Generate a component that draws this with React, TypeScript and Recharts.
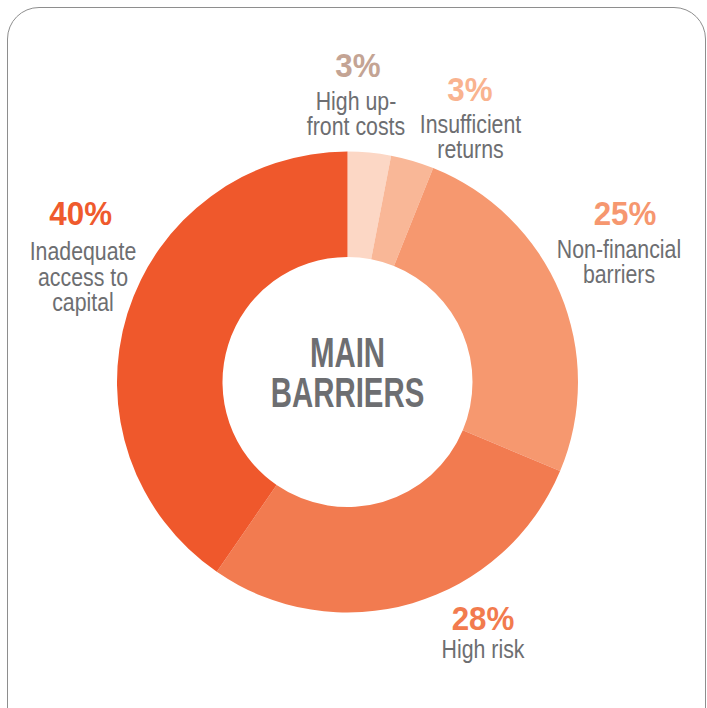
import { PieChart, Pie, Cell } from 'recharts'

// shares of the main barriers, clockwise from 12 o'clock
const categories = [
  'High up-front costs',
  'Insufficient returns',
  'Non-financial barriers',
  'High risk',
  'Inadequate access to capital',
]
const categoryLines = [
  ['High up-', 'front costs'],
  ['Insufficient', 'returns'],
  ['Non-financial', 'barriers'],
  ['High risk'],
  ['Inadequate', 'access to', 'capital'],
]
const shares = [3, 3, 25, 28, 40]
const centerTitle = ['MAIN', 'BARRIERS']

const sliceColors = ['#FCD7C5', '#F9B797', '#F6986F', '#F27B50', '#EF582C']
const percentColors = ['#C4A494', '#F9B38F', '#F6976F', '#F27B4E', '#EF5A2D']
const textGray = '#6D6E71'

// label anchor offsets from the pie centre
const labelLayout = [
  { pctX: 10.5, pctY: -305, lineX: 8.5, lineY: -272, gap: 25 },
  { pctX: 122.5, pctY: -281, lineX: 123, lineY: -249, gap: 24.5 },
  { pctX: 277.5, pctY: -157, lineX: 271.5, lineY: -124, gap: 25 },
  { pctX: 135.5, pctY: 248, lineX: 135.5, lineY: 276, gap: 25 },
  { pctX: -266.8, pctY: -157, lineX: -264.5, lineY: -122, gap: 25.5 },
]

const chartData = categories.map((name, i) => ({
  name,
  value: shares[i],
  lines: categoryLines[i],
}))

const FONT = '"Liberation Sans", Arial, sans-serif'

const renderCenter = (cx: number, cy: number) =>
  centerTitle.map((t, i) => (
    <text
      key={t}
      transform={`translate(${cx},${cy - 15 + i * 40}) scale(0.7,1)`}
      textAnchor="middle"
      fontFamily={FONT}
      fontWeight={700}
      fontSize={42}
      fill={textGray}
    >
      {t}
    </text>
  ))

const renderLabel = (props: any) => {
  const { cx, cy, index, value } = props
  const l = labelLayout[index]
  const lines: string[] = chartData[index].lines
  return (
    <g key={`lbl-${index}`}>
      {index === 0 && renderCenter(cx, cy)}
      <text
        transform={`translate(${cx + l.pctX},${cy + l.pctY}) scale(0.95,1)`}
        textAnchor="middle"
        fontFamily={FONT}
        fontWeight={700}
        fontSize={33}
        fill={percentColors[index]}
      >
        {`${value}%`}
      </text>
      {lines.map((line, j) => (
        <text
          key={j}
          transform={`translate(${cx + l.lineX},${cy + l.lineY + j * l.gap}) scale(0.82,1)`}
          textAnchor="middle"
          fontFamily={FONT}
          fontSize={26}
          fill={textGray}
        >
          {line}
        </text>
      ))}
    </g>
  )
}

export default function App() {
  return (
    <div
      style={{
        position: 'fixed',
        left: 0,
        top: 0,
        width: 707,
        height: 708,
        overflow: 'hidden',
        background: '#fff',
      }}
    >
      <div
        style={{
          position: 'absolute',
          left: 7,
          top: 7,
          width: 699,
          height: 760,
          boxSizing: 'border-box',
          border: '1.5px solid #8E8E8E',
          borderRadius: 32,
        }}
      />
      <div style={{ position: 'absolute', left: 0, top: 0 }}>
        <PieChart width={707} height={708} margin={{ top: 0, right: 0, bottom: 0, left: 0 }}>
          <Pie
            data={chartData}
            dataKey="value"
            nameKey="name"
            cx={347.5}
            cy={382}
            innerRadius={125}
            outerRadius={230.5}
            startAngle={90}
            endAngle={-270}
            stroke="none"
            label={renderLabel}
            labelLine={false}
            isAnimationActive={false}
          >
            {chartData.map((d, i) => (
              <Cell key={d.name} fill={sliceColors[i]} />
            ))}
          </Pie>
        </PieChart>
      </div>
    </div>
  )
}
